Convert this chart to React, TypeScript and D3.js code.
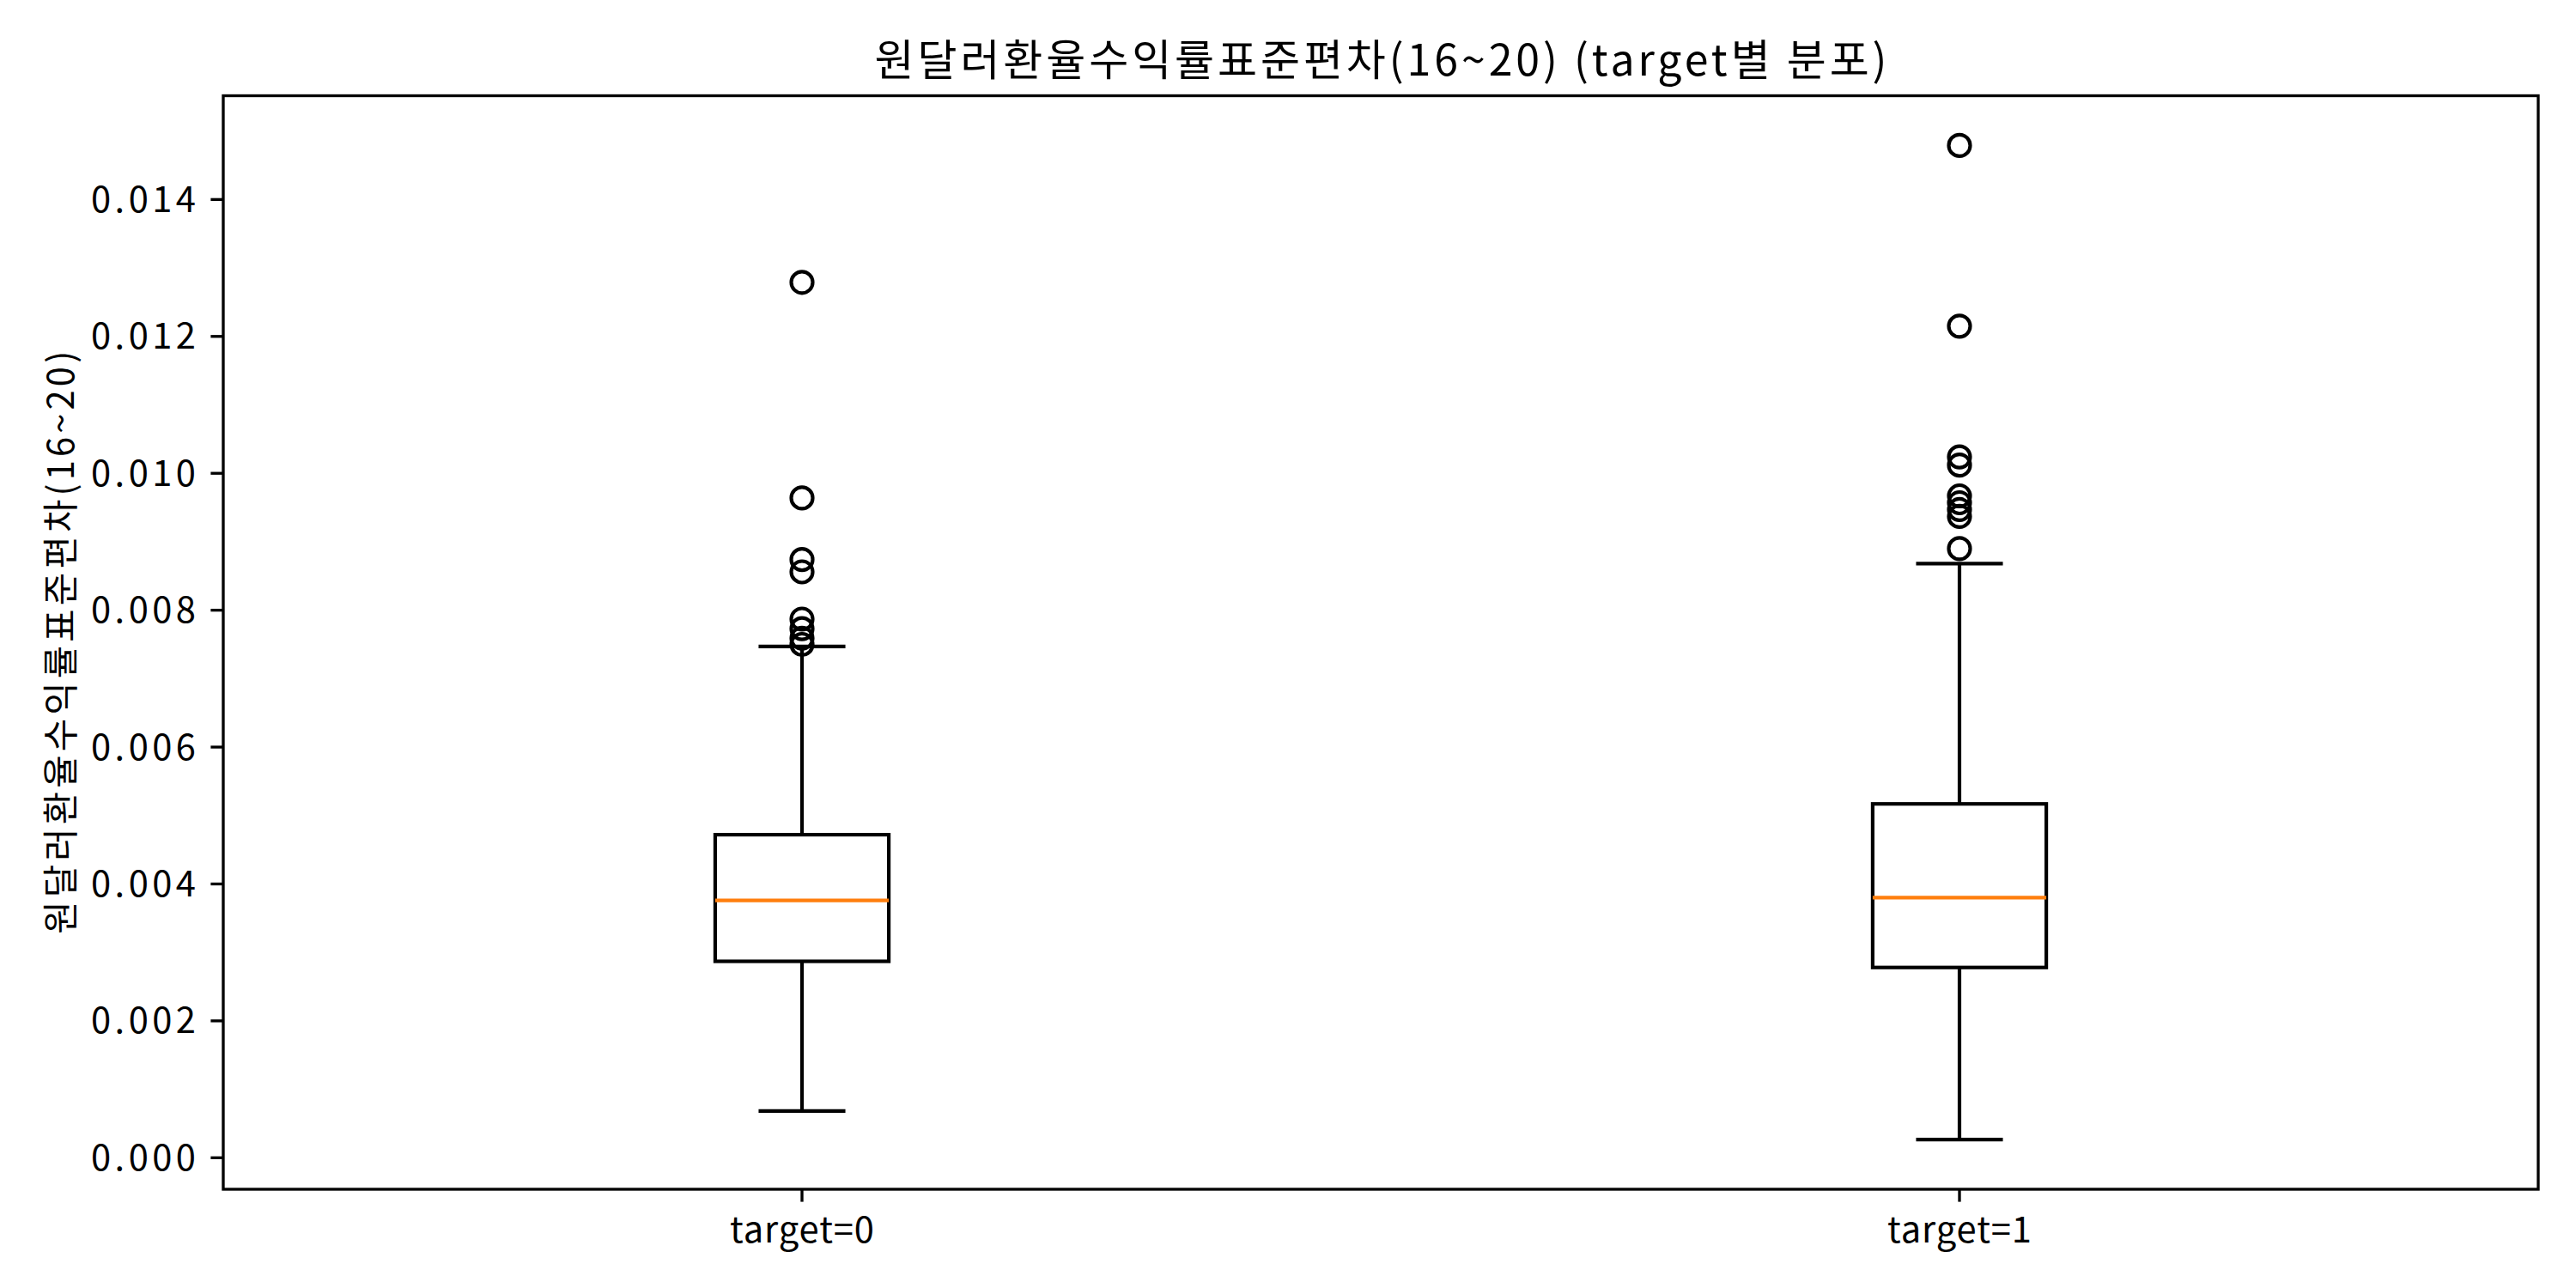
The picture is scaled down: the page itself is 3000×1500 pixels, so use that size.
import React, { useEffect, useRef } from 'react';
import * as d3 from 'd3';

// values
const categories = ['target=0', 'target=1'];
const whiskerLow = [0.000684, 0.000266];
const q1 = [0.00287, 0.00278];
const median = [0.00376, 0.0038];
const q3 = [0.00472, 0.00517];
const whiskerHigh = [0.00747, 0.00868];
const outliers0 = [0.01279, 0.00964, 0.00874, 0.00856, 0.00787, 0.00773, 0.00759, 0.0075];
const outliers1 = [0.01479, 0.01215, 0.01024, 0.01012, 0.00967, 0.00957, 0.00947, 0.00937, 0.0089];
const yTicks = [0, 0.002, 0.004, 0.006, 0.008, 0.01, 0.012, 0.014];

const title = '원달러환율수익률표준편차(16~20) (target별 분포)';
const yLabel = '원달러환율수익률표준편차(16~20)';

const App = () => {
    const svgRef = useRef<SVGSVGElement>(null);

    useEffect(() => {
        const width = 3000;
        const height = 1500;
        const margin = { left: 260, right: 44, top: 111.5, bottom: 115 };
        const font = '"Noto Sans CJK KR", "Noto Sans", sans-serif';
        const lw = 4.17;

        const svg = d3.select(svgRef.current);
        svg.selectAll('*').remove();

        const outliers = [outliers0, outliers1];
        const all = [...whiskerLow, ...whiskerHigh, ...outliers0, ...outliers1];
        const lo = d3.min(all) as number;
        const hi = d3.max(all) as number;
        const pad = (hi - lo) * 0.05;

        const x = d3.scaleLinear().domain([0.5, 2.5]).range([margin.left, width - margin.right]);
        const y = d3.scaleLinear().domain([lo - pad, hi + pad]).range([height - margin.bottom, margin.top]);

        const boxW = x(1.075) - x(1);
        const capW = x(1.0375) - x(1);

        svg.append('rect').attr('width', width).attr('height', height).attr('fill', 'white');

        // title (reference font is wider, stretch spacing to match)
        svg.append('text')
            .attr('x', (margin.left + width - margin.right) / 2)
            .attr('y', 88)
            .attr('text-anchor', 'middle')
            .attr('textLength', 1179)
            .attr('lengthAdjust', 'spacing')
            .style('font-family', font)
            .style('font-size', '50px')
            .text(title);

        // y axis ticks
        const yAxis = svg.append('g');
        yTicks.forEach(t => {
            yAxis.append('line')
                .attr('x1', margin.left - 14.6).attr('x2', margin.left)
                .attr('y1', y(t)).attr('y2', y(t))
                .attr('stroke', 'black').attr('stroke-width', 3.33);
            yAxis.append('text')
                .attr('x', margin.left - 32)
                .attr('y', y(t))
                .attr('dy', '0.35em')
                .attr('text-anchor', 'end')
                .attr('textLength', 122)
                .attr('lengthAdjust', 'spacing')
                .style('font-family', font)
                .style('font-size', '41.7px')
                .text(t.toFixed(3));
        });

        // y label
        svg.append('text')
            .attr('transform', `translate(86, ${(margin.top + height - margin.bottom) / 2}) rotate(-90)`)
            .attr('text-anchor', 'middle')
            .attr('textLength', 679)
            .attr('lengthAdjust', 'spacing')
            .style('font-family', font)
            .style('font-size', '41.7px')
            .text(yLabel);

        // x ticks
        categories.forEach((c, i) => {
            const cx = x(i + 1);
            svg.append('line')
                .attr('x1', cx).attr('x2', cx)
                .attr('y1', height - margin.bottom).attr('y2', height - margin.bottom + 14.6)
                .attr('stroke', 'black').attr('stroke-width', 3.33);
            svg.append('text')
                .attr('x', cx)
                .attr('y', 1447)
                .attr('text-anchor', 'middle')
                .attr('textLength', 168)
                .attr('lengthAdjust', 'spacing')
                .style('font-family', font)
                .style('font-size', '41.7px')
                .text(c);
        });

        // boxes
        const g = svg.append('g');
        categories.forEach((c, i) => {
            const cx = x(i + 1);
            const line = (x1: number, y1: number, x2: number, y2: number, color = 'black') =>
                g.append('line')
                    .attr('x1', x1).attr('y1', y1).attr('x2', x2).attr('y2', y2)
                    .attr('stroke', color).attr('stroke-width', lw);

            // whiskers
            line(cx, y(q1[i]), cx, y(whiskerLow[i]));
            line(cx, y(q3[i]), cx, y(whiskerHigh[i]));
            line(cx - capW, y(whiskerLow[i]), cx + capW, y(whiskerLow[i]));
            line(cx - capW, y(whiskerHigh[i]), cx + capW, y(whiskerHigh[i]));

            g.append('rect')
                .attr('x', cx - boxW)
                .attr('y', y(q3[i]))
                .attr('width', boxW * 2)
                .attr('height', y(q1[i]) - y(q3[i]))
                .attr('fill', 'none')
                .attr('stroke', 'black')
                .attr('stroke-width', lw);

            line(cx - boxW, y(median[i]), cx + boxW, y(median[i]), '#ff7f0e');

            g.selectAll(`.flier${i}`)
                .data(outliers[i])
                .enter()
                .append('circle')
                .attr('cx', cx)
                .attr('cy', d => y(d))
                .attr('r', 12.5)
                .attr('fill', 'none')
                .attr('stroke', 'black')
                .attr('stroke-width', lw);
        });

        // frame
        svg.append('rect')
            .attr('x', margin.left)
            .attr('y', margin.top)
            .attr('width', width - margin.left - margin.right)
            .attr('height', height - margin.top - margin.bottom)
            .attr('fill', 'none')
            .attr('stroke', 'black')
            .attr('stroke-width', 3.33);
    }, []);

    return (
        <svg ref={svgRef} width={3000} height={1500}
            style={{ position: 'absolute', left: 0, top: 0 }}></svg>
    );
};

export default App;
